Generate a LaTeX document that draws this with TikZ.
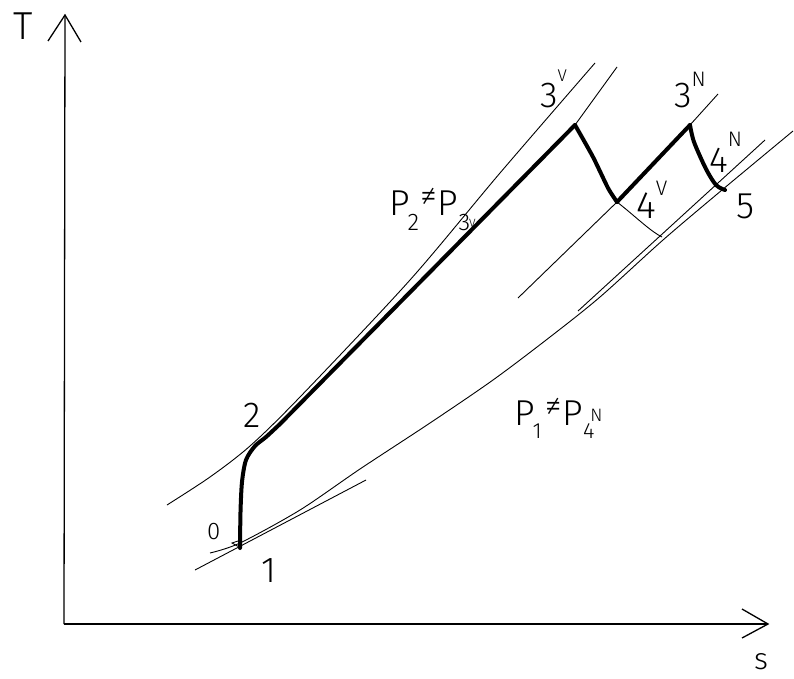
\documentclass[tikz,border=0pt]{standalone}
\usepackage{fontspec}
\newfontfamily\labfont{Fira Sans Light}
\newcommand{\fsz}[1]{\fontsize{#1}{#1}\selectfont}
\begin{document}
\begin{tikzpicture}[x=1pt,y=-1pt,
  thinline/.style={line width=0.9pt},
  axisline/.style={line width=1.3pt},
  cycleline/.style={line width=4pt,line cap=round,line join=round},
  lbl/.style={anchor=base west,inner sep=0pt,font=\labfont}]
\useasboundingbox (0,0) rectangle (794,679);
% axes
\coordinate (O) at (64,624);
\coordinate (Ttip) at (65,15);
\coordinate (Stip) at (768,624);
\draw[axisline] (O) -- (Ttip);
\draw[axisline] (48,41) -- (Ttip) -- (81,42);
\draw[axisline] (O) -- (Stip);
\draw[axisline] (742,609) -- (Stip) -- (742,638);
\node[lbl] (Tl) at (13,40) {\fsz{39}T};
\node[lbl] (sl) at (754,669) {\fsz{30}s};
% state points
\coordinate (p0) at (240,548);
\coordinate (p2) at (256,444);
\coordinate (p3v) at (575,125);
\coordinate (p4v) at (617,202);
\coordinate (p3n) at (690,125);
\coordinate (p5) at (725,190);
% thin isobars
\draw[thinline] plot[smooth,tension=0.5] coordinates {(167,505) (210,477) (250,446) (300,397) (410,280) (500,173) (595,63)};
\draw[thinline] (p3v) -- (617,67);
\draw[thinline] (518,298) -- (p4v) -- (p3n) -- (718,94);
\draw[thinline] (p4v) .. controls (635,216) and (650,231) .. (662,237);
\draw[thinline] plot[smooth,tension=0.5] coordinates {(210,553) (240,543) (300,510) (360,469) (430,423) (493,380) (550,337) (600,297) (663,240) (722,190) (793,131)};
\draw[thinline] (578,311) -- (765,140);
\draw[thinline] (195,570) -- (366,480);
\draw[thinline] (232,543) -- (241,540) -- (241,548) -- cycle;
% cycle
\draw[cycleline] plot[smooth,tension=0.5] coordinates {(240,548) (240.5,512) (242,482) (246,460) (255,446) (266,437) (280,424)} -- (575,125);
\draw[cycleline] plot[smooth,tension=0.4] coordinates {(575,125) (593,157) (608,188) (617,202)};
\draw[cycleline] (p4v) -- (p3n);
\draw[cycleline] plot[smooth,tension=0.5] coordinates {(690,125) (694,142) (706,169) (716,185) (725,190)};
% labels
\node[lbl] (l0) at (207,539) {\fsz{24}0};
\node[lbl] (l1) at (261,582) {\fsz{36}1};
\node[lbl] (l2) at (243,427) {\fsz{36}2};
\node[lbl] (l3v) at (540,108) {\fsz{36}3\raisebox{26pt}{\fsz{17}V}};
\node[lbl] (l3n) at (674,108) {\fsz{36}3\raisebox{21pt}{\fsz{21}N}};
\node[lbl] (l4n) at (709,172) {\fsz{36}4\raisebox{25pt}{\fsz{21}N}};
\node[lbl] (l4v) at (636,218) {\fsz{38}4\raisebox{23pt}{\fsz{21}V}};
\node[lbl] (l5) at (736,218) {\fsz{37}5};
\node[lbl] (pa) at (389,215) {\fsz{36}P\kern-2pt\raisebox{-15pt}{\fsz{24}2}\kern1pt\raisebox{8pt}{\fsz{34}≠}\kern1pt P\raisebox{-15pt}{\fsz{24}3}\kern-1pt\raisebox{-12pt}{\fsz{12}V}};
\node[lbl] (pb) at (514,425) {\fsz{36}P\kern-2pt\raisebox{-13pt}{\fsz{22}1}\kern3pt\raisebox{8pt}{\fsz{34}≠}\kern1pt P\raisebox{-13pt}{\fsz{22}4}\kern-4pt\raisebox{4pt}{\fsz{18}N}};
\end{tikzpicture}
\end{document}
